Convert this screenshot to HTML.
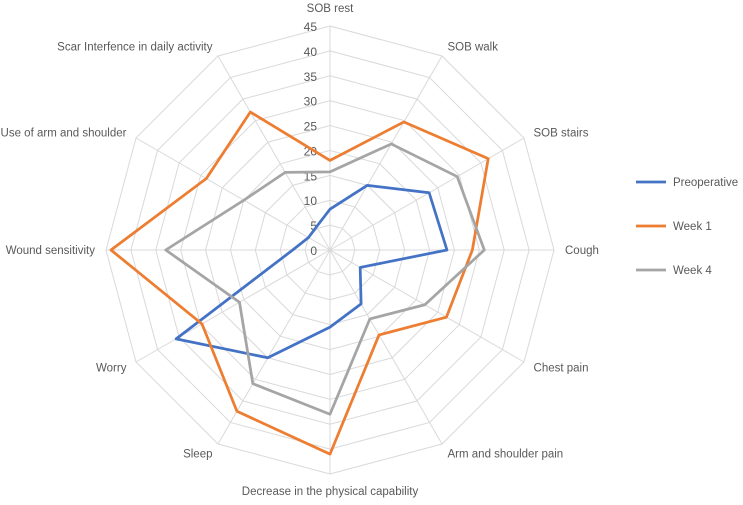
<!DOCTYPE html>
<html><head><meta charset="utf-8"><style>
body{margin:0;background:#fff;}
svg text{font-family:"Liberation Sans",sans-serif;fill:#595959;}
</style></head><body>
<svg id="chart" width="743" height="500" viewBox="0 0 743 500" xmlns="http://www.w3.org/2000/svg">
<g id="grid"></g><g id="series"></g><g id="labels"></g><g id="legend"></g>
</svg>
<script>
const categories=["SOB rest","SOB walk","SOB stairs","Cough","Chest pain","Arm and shoulder pain","Decrease in the physical capability","Sleep","Worry","Wound sensitivity","Use of arm and shoulder","Scar Interfence in daily activity"];
const preoperative=[8.2,15,23,23.5,7,12.5,15.5,25,35.7,7.5,5,5.4];
const week1=[18,29.7,36.7,28.6,27,19.7,41,37.4,29.7,44,28.7,32];
const week4=[15.7,24.6,29.5,31,22,16,33,31,21,33,20,18];
const tickLabels=[0,5,10,15,20,25,30,35,40,45];
const seriesNames=["Preoperative","Week 1","Week 4"];
const seriesColors=["#4472C4","#ED7D31","#A5A5A5"];
const cx=330,cy=250,R=224,maxV=45;
const NS="http://www.w3.org/2000/svg";
function mk(t,a,p){const e=document.createElementNS(NS,t);for(const k in a)e.setAttribute(k,a[k]);p.appendChild(e);return e;}
function ang(i){return -Math.PI/2+i*2*Math.PI/categories.length;}
function pt(i,v){const r=v/maxV*R,a=ang(i);return [cx+r*Math.cos(a),cy+r*Math.sin(a)];}
const grid=document.getElementById('grid');
tickLabels.forEach(t=>{if(t===0)return;const pts=categories.map((c,i)=>pt(i,t).join(',')).join(' ');
const g=mk('polygon',{points:pts,fill:'none',stroke:'#D9D9D9','stroke-width':1},grid);
});
categories.forEach((c,i)=>{const p=pt(i,maxV);const l=mk('line',{x1:cx,y1:cy,x2:p[0],y2:p[1],stroke:'#D9D9D9','stroke-width':1},grid);
});
tickLabels.forEach(t=>{const p=pt(0,t);const e=mk('text',{x:p[0]-13,y:p[1]+5,'text-anchor':'end','font-size':12},grid);e.textContent=t;
});
const ser=document.getElementById('series');
[preoperative,week1,week4].forEach((d,s)=>{const pts=d.map((v,i)=>pt(i,v).join(',')).join(' ');
const e=mk('polygon',{points:pts,fill:'none',stroke:seriesColors[s],'stroke-width':2.75,'stroke-linejoin':'round'},ser);
});
const lab=document.getElementById('labels');
categories.forEach((c,i)=>{const a=ang(i);const r=R+11;let x=cx+r*Math.cos(a),y=cy+r*Math.sin(a)+4;
const cs=Math.cos(a);let anchor=Math.abs(cs)<0.1?'middle':(cs>0?'start':'end');
if(i===0)y=12;if(i===6)y=495;
const e=mk('text',{x:x,y:y,'text-anchor':anchor,'font-size':11.5},lab);e.textContent=c;
});
const leg=document.getElementById('legend');
seriesNames.forEach((n,s)=>{const y=182+s*44;
const l=mk('line',{x1:636,y1:y,x2:666,y2:y,stroke:seriesColors[s],'stroke-width':2.75},leg);

const t=mk('text',{x:673,y:y+4,'font-size':11.5},leg);t.textContent=n;
});
</script>
</body></html>
